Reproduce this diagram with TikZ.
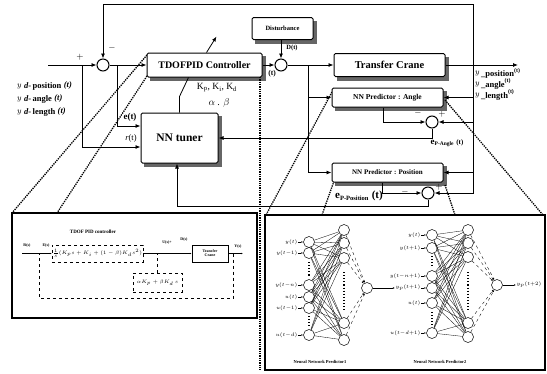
\documentclass[tikz,border=0pt]{standalone}
\usepackage{fontspec}
\setmainfont{Liberation Serif}
\usetikzlibrary{arrows.meta, positioning, calc, backgrounds}

\newcommand{\ydl}[1]{$y$\;\raisebox{-1.2pt}{\textit{d}-\,#1}\;\textit{(t)}}
\newcommand{\yout}[1]{$y$\,\raisebox{-1.5pt}{\_#1}\textsuperscript{(t)}}
\newcommand{\fs}[1]{\fontsize{#1}{#1}\selectfont}
\newcommand{\boxshade}[1]{%
  \fill[black!60] ([shift={(3.5pt,-3.5pt)}]#1.north west) rectangle ([shift={(3.5pt,-3.5pt)}]#1.south east);}

\tikzset{
  blk/.style={draw, line width=1pt, fill=white, inner sep=1pt, rounded corners=1.5pt},
  sumj/.style={draw, circle, line width=1pt, minimum size=12pt, inner sep=0pt, fill=white},
  arr/.style={-{Latex[length=5pt,width=4pt]}, line width=.8pt},
  ln/.style={line width=.8pt},
  zoomln/.style={line width=1.3pt, densely dotted},
  lbl/.style={inner sep=0pt, font=\bfseries\fs{9}},
  % inside the two zoom boxes
  neu/.style={draw, circle, minimum size=11pt, inner sep=0pt, line width=.5pt, fill=white},
  nnlbl/.style={inner sep=.5pt, font=\fs{3.6}},
  sarr/.style={-{Latex[length=2pt,width=1.6pt]}, line width=.4pt},
  mesh/.style={line width=.3pt},
  hid/.style={-{Latex[length=2pt,width=1.6pt]}, line width=.35pt, dashed},
  dotl/.style={line width=1.1pt, dotted},
  fbox/.style={draw, dashed, line width=.4pt, inner sep=1pt, font=\fs{4}},
  pbox/.style={draw, line width=.5pt, inner sep=1pt, align=center, font=\bfseries\fs{4}},
  fbl/.style={dashed, line width=.4pt}
}

\begin{document}
\begin{tikzpicture}[x=1pt, y=-1pt]
  \useasboundingbox (0,0) rectangle (547,373);

  % zoom lines
  \draw[zoomln] (147,55) -- (12,213);
  \draw[zoomln] (147,76) -- (57,213);
  \draw[zoomln] (260,77) -- (260,370);
  \draw[zoomln] (332,92) -- (266,215);
  \draw[zoomln] (445,100) -- (543,215);
  \draw[zoomln] (334,181) -- (322,215);
  \draw[zoomln] (445,185) -- (455,215);

  % blocks
  \node[sumj] (sumA) at (103,65) {};
  \node[blk, minimum width=115pt, minimum height=24pt, font=\bfseries\fs{10}] (ctrl) at (204.5,65) {TDOFPID Controller};
  \node[blk, minimum width=61pt, minimum height=22pt, font=\bfseries\fs{6.5}] (dist) at (282.5,28.5) {Disturbance};
  \node[sumj] (sumD) at (281,65) {};
  \node[blk, minimum width=111pt, minimum height=23pt, font=\bfseries\fs{10.5}] (crane) at (389.5,65) {Transfer Crane};
  \node[blk, minimum width=111pt, minimum height=19pt, font=\bfseries\fs{7.5}] (predA) at (387.5,97.5) {NN Predictor : Angle};
  \node[blk, minimum width=111pt, minimum height=19pt, font=\bfseries\fs{7}] (predP) at (387.5,172.5) {NN Predictor : Position};
  \node[blk, minimum width=77pt, minimum height=50pt, font=\bfseries\fs{11.5}] (tuner) at (179.5,138) {NN tuner};
  \node[sumj] (sumEA) at (432,122) {};
  \node[sumj] (sumEP) at (428,193) {};

  \begin{scope}[on background layer]
    \boxshade{ctrl} \boxshade{dist} \boxshade{crane}
    \boxshade{predA} \boxshade{predP} \boxshade{tuner}
  \end{scope}

  \coordinate (in) at (48,65);
  \coordinate (rb) at (82,65);
  \coordinate (eb) at (117,65);
  \coordinate (br) at (308,65);
  \coordinate (fbout) at (473,65);
  \coordinate (fbtop) at (473,4);
  \coordinate (out) at (518,65);
  \coordinate (epc) at (177,206);

  % main path
  \draw[arr] (in) -- (sumA.west);
  \draw[arr] (sumA.east) -- (ctrl.west);
  \draw[arr] (ctrl.east) -- (sumD.west);
  \draw[arr] (dist.south -| sumD.north) -- (sumD.north);
  \draw[arr] (sumD.east) -- (crane.west);
  \draw[arr] (crane.east) -- (out);
  \draw[arr] (fbout) -- (fbtop) -| (sumA.north);

  % tuner inputs
  \draw[arr] (rb) |- ([yshift=-9pt]tuner.west);
  \draw[arr] (eb) |- ([yshift=12pt]tuner.west);
  \draw[ln] (tuner.north) -- ++(0,-16) -- ([xshift=-16pt]ctrl.south);
  \draw[arr] ([xshift=2pt]ctrl.north) -- ++(10,-16);

  % predictors
  \draw[arr] (br) |- (predA.west);
  \draw[arr] (br) |- (predP.west);
  \draw[arr] (fbout) |- (predA.east);
  \draw[arr] (fbout) |- (sumEA.east);
  \draw[arr] (fbout) |- (predP.east);
  \draw[arr] (fbout) |- (sumEP.east);
  \draw[arr] ([xshift=-4.5pt]predA.south) |- (sumEA.west);
  \draw[arr] ([xshift=-5.5pt]predP.south) |- (sumEP.west);
  \draw[arr] (sumEA.south) |- (tuner.east);
  \draw[arr] (sumEP.south) |- (epc) -- (epc |- tuner.south);

  % labels
  \node[lbl] (pA) at (80,57) {$+$};
  \node[lbl] (mA) at (112,48) {$-$};
  \node[lbl, anchor=west, font=\bfseries\fs{8.5}] (yd1) at (17,86) {\ydl{position}};
  \node[lbl, anchor=west, font=\bfseries\fs{8.5}] (yd2) at (17,99) {\ydl{angle}};
  \node[lbl, anchor=west, font=\bfseries\fs{8.5}] (yd3) at (17,112) {\ydl{length}};
  \node[lbl] (et) at (130,117) {e(t)};
  \node[lbl, font=\fs{8.5}] (rt) at (131,138) {\textit{r}(t)};
  \node[lbl, font=\fs{9.5}] (kk) at (217,88) {K\textsubscript{p}, K\textsubscript{i}, K\textsubscript{d}};
  \node[lbl, font=\fs{10}] (ab) at (219,103) {$\alpha$ . $\beta$};
  \node[lbl, font=\bfseries\fs{7.5}] (ut) at (272,74) {(t)};
  \node[lbl, font=\bfseries\fs{6.5}] (dt) at (292,48) {D(t)};
  \node[lbl, anchor=west, font=\bfseries\fs{8.5}] (yo1) at (475,73) {\yout{position}};
  \node[lbl, anchor=west, font=\bfseries\fs{8.5}] (yo2) at (475,84) {\yout{angle}};
  \node[lbl, anchor=west, font=\bfseries\fs{8.5}] (yo3) at (475,95) {\yout{length}};
  \node[lbl] (mEA) at (418,113) {$-$};
  \node[lbl] (pEA) at (442,114) {$+$};
  \node[lbl, font=\bfseries\fs{9}] (eA) at (447,143) {e\textsubscript{\fs{5.5}P-Angle} \fs{7}(t)};
  \node[lbl, font=\bfseries\fs{11}] (eP) at (359,196) {e\textsubscript{\fs{6.5}P-Position} (t)};
  \node[lbl] (mEP) at (405,192) {$-$};
  \node[lbl] (pEP) at (439,187) {$+$};

  % TDOF PID zoom box
  \draw[line width=1.3pt] (12,213) rectangle (257,318);
  \node[lbl, font=\bfseries\fs{5}] (ttl) at (93,232) {TDOF PID controller};
  \coordinate (lsin) at (22,253.5);
  \coordinate (lsj) at (39,253.5);
  \coordinate (lsfb) at (233,253.5);
  \coordinate (lsbot) at (39,298);
  \coordinate (lsout) at (243,253.5);
  \node[fbox, minimum width=91pt, minimum height=17pt] (fwd) at (97.5,253.5) {$\frac{1}{s}(K_p s+K_i+(1-\beta)K_d s^2)$};
  \node[pbox, minimum width=36pt, minimum height=17pt] (tcr) at (210,253.5) {Transfer\\Crane};
  \node[fbox, minimum width=49pt, minimum height=19pt] (fbk) at (157.5,282.5) {$\alpha K_p+\beta K_d\,s$};
  \draw[sarr] (lsin) -- (fwd.west);
  \draw[sarr] (fwd.east) -- (tcr.west);
  \draw[sarr] (tcr.east) -- (lsout);
  \draw[fbl] (lsfb) |- (lsbot) -- (lsj);
  \draw[fbl] (fbk.north) -- (fbk.north |- fwd.east);
  \node[nnlbl, font=\bfseries\fs{4}] (rs) at (27,246) {R(s)};
  \node[nnlbl, font=\bfseries\fs{4}] (es) at (46,246) {E(s)};
  \node[nnlbl, font=\bfseries\fs{4}] (us) at (167,243) {U(s)+};
  \node[nnlbl, font=\bfseries\fs{4}] (ds) at (184,240) {D(s)};
  \node[nnlbl, font=\bfseries\fs{4}] (ys) at (238,247) {Y(s)};

  % NN predictor zoom box
  \draw[line width=1.3pt] (265,215) rectangle (545,370);
  % predictor 1
  \foreach \y/\lab [count=\i] in {242/$y(t)$, 253/$y(t{-}1)$, 285/$y(t{-}n)$, 297/$u(t)$, 308/$u(t{-}1)$, 335/$u(t{-}d)$}{
    \node[neu] (a\i) at (309,\y) {};
    \node[nnlbl, anchor=east] (al\i) at (298,\y) {\lab};
    \draw[sarr] (al\i.east) -- (a\i.west);
  }
  \foreach \y [count=\i] in {230,243,258,323,340}
    \node[neu] (b\i) at (344,\y) {};
  \node[neu] (c1) at (367,288) {};
  \foreach \i in {1,...,6}
    \foreach \j in {1,...,5}
      \draw[mesh] (a\i) -- (b\j);
  \foreach \j in {1,...,5}
    \draw[hid] (b\j) -- (c1);
  \draw[dotl] (309,262) -- (309,277);
  \draw[dotl] (309,316) -- (309,327);
  \draw[dotl] (344,272) -- (344,310);
  % predictor 2
  \foreach \y/\lab [count=\i] in {235/$y(t)$, 248/$y(t{+}1)$, 276/$y(t{-}n{+}1)$, 288/$y_p(t{+}1)$, 303/$u(t)$, 333/$u(t{-}d{+}1)$}{
    \node[neu] (d\i) at (432,\y) {};
    \node[nnlbl, anchor=east] (dl\i) at (421,\y) {\lab};
    \draw[sarr] (dl\i.east) -- (d\i.west);
  }
  \foreach \y [count=\i] in {230,243,257,323,337}
    \node[neu] (e\i) at (468,\y) {};
  \node[neu] (c2) at (497,285) {};
  \foreach \i in {1,...,6}
    \foreach \j in {1,...,5}
      \draw[mesh] (d\i) -- (e\j);
  \foreach \j in {1,...,5}
    \draw[hid] (e\j) -- (c2);
  \draw[dotl] (432,256) -- (432,268);
  \draw[dotl] (432,312) -- (432,325);
  \draw[dotl] (468,272) -- (468,310);
  \draw[sarr] (c1) -- (dl4.west);
  \node[nnlbl, anchor=west] (ol) at (516,285) {$y_p(t{+}2)$};
  \draw[sarr] (c2) -- (ol);
  \node[nnlbl, font=\bfseries\fs{4.5}] (t1) at (320,362) {Neural Network Predictor1};
  \node[nnlbl, font=\bfseries\fs{4.5}] (t2) at (440,362) {Neural Network Predictor2};
\end{tikzpicture}
\end{document}
